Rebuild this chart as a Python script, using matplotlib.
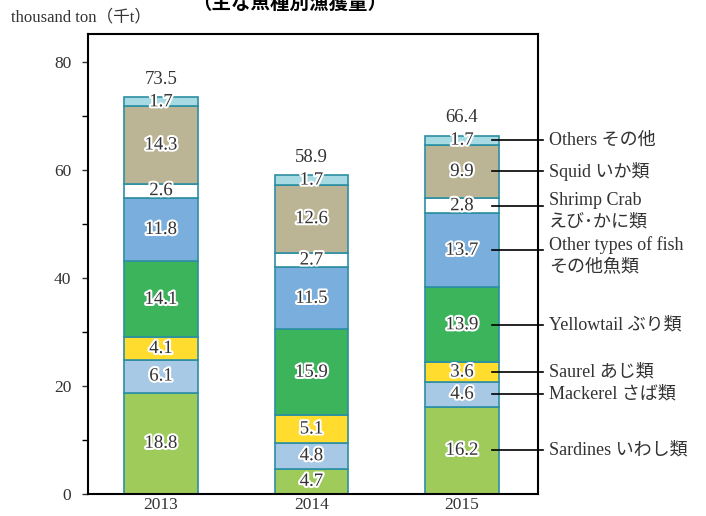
import matplotlib
matplotlib.use("Agg")
import matplotlib.pyplot as plt
import matplotlib.patheffects as pe
import numpy as np

years = ["2013", "2014", "2015"]
species = ["Sardines いわし類", "Mackerel さば類", "Saurel あじ類", "Yellowtail ぶり類",
           "Other types of fish\nその他魚類", "Shrimp Crab\nえび･かに類", "Squid いか類", "Others その他"]
values = [
    [18.8, 4.7, 16.2],   # sardines
    [6.1, 4.8, 4.6],     # mackerel
    [4.1, 5.1, 3.6],     # saurel
    [14.1, 15.9, 13.9],  # yellowtail
    [11.8, 11.5, 13.7],  # other fish
    [2.6, 2.7, 2.8],     # shrimp crab
    [14.3, 12.6, 9.9],   # squid
    [1.7, 1.7, 1.7],     # others
]
totals = [73.5, 58.9, 66.4]
colors = ["#9ECB5A", "#A7C9E5", "#FFDC2E", "#3BB45C", "#79AEDD", "#FFFFFF", "#BCB595", "#A8DAE3"]
EDGE = "#2C8FA3"
FONT = ["Liberation Serif", "Noto Sans CJK JP"]
TXT = "#333333"

plt.rcParams["font.family"] = FONT
fig = plt.figure(figsize=(7.06, 5.16), dpi=100)
ax = fig.add_axes([0.1246, 0.0426, 0.6374, 0.8914])

x = np.arange(len(years))
bottom = np.zeros(len(years))
stroke = [pe.withStroke(linewidth=3, foreground="white")]
for vals, col in zip(values, colors):
    vals = np.array(vals)
    ax.bar(x, vals, width=0.49, bottom=bottom, color=col, edgecolor=EDGE, linewidth=1.2, zorder=2)
    for xi, b, v in zip(x, bottom, vals):
        ax.text(xi, b + v / 2, f"{v:.1f}", ha="center", va="center", fontsize=13.5,
                color=TXT, path_effects=stroke, zorder=4)
    bottom += vals

for xi, t in zip(x, totals):
    ax.annotate(f"{t:.1f}", (xi, t), xytext=(0, 13), textcoords="offset points",
                ha="center", va="center", fontsize=13.5, color=TXT)

# side labels for the last bar
b = 0.0
for vals, name in zip(values, species):
    v = vals[-1]
    yc = b + v / 2
    ax.plot([2.2, 2.54], [yc, yc], color="black", lw=1.2, clip_on=False, zorder=5)
    if "\n" in name:
        ax.annotate(name, (2.54, yc), xytext=(4, 10), textcoords="offset points",
                    ha="left", va="top", fontsize=13, color=TXT,
                    linespacing=1.35, annotation_clip=False)
    else:
        ax.annotate(name, (2.54, yc), xytext=(4, 0), textcoords="offset points",
                    ha="left", va="center", fontsize=13, color=TXT,
                    annotation_clip=False)
    b += v

ax.set_xlim(-0.485, 2.505)
ax.set_ylim(0, 85.2)
ax.set_xticks(x)
ax.set_xticklabels(years, fontsize=12.5, color=TXT)
ax.set_yticks([0, 20, 40, 60, 80])
ax.set_yticks([10, 30, 50, 70], minor=True)
ax.tick_params(axis="y", labelsize=12.5, colors=TXT, length=4, width=1, pad=8)
ax.tick_params(axis="y", which="minor", length=4, width=1)
ax.tick_params(axis="x", length=0, pad=2)
for s in ax.spines.values():
    s.set_linewidth(1.5)
    s.set_color("black")

fig.text(0.016, 0.966, "thousand ton（千t）", fontsize=12, color=TXT, va="center")
fig.text(0.41, 0.994, "（主な魚種別漁獲量）", fontsize=14, fontweight="bold",
         family="Noto Sans CJK JP", ha="center", va="center")

fig.savefig("out.png", dpi=100)
